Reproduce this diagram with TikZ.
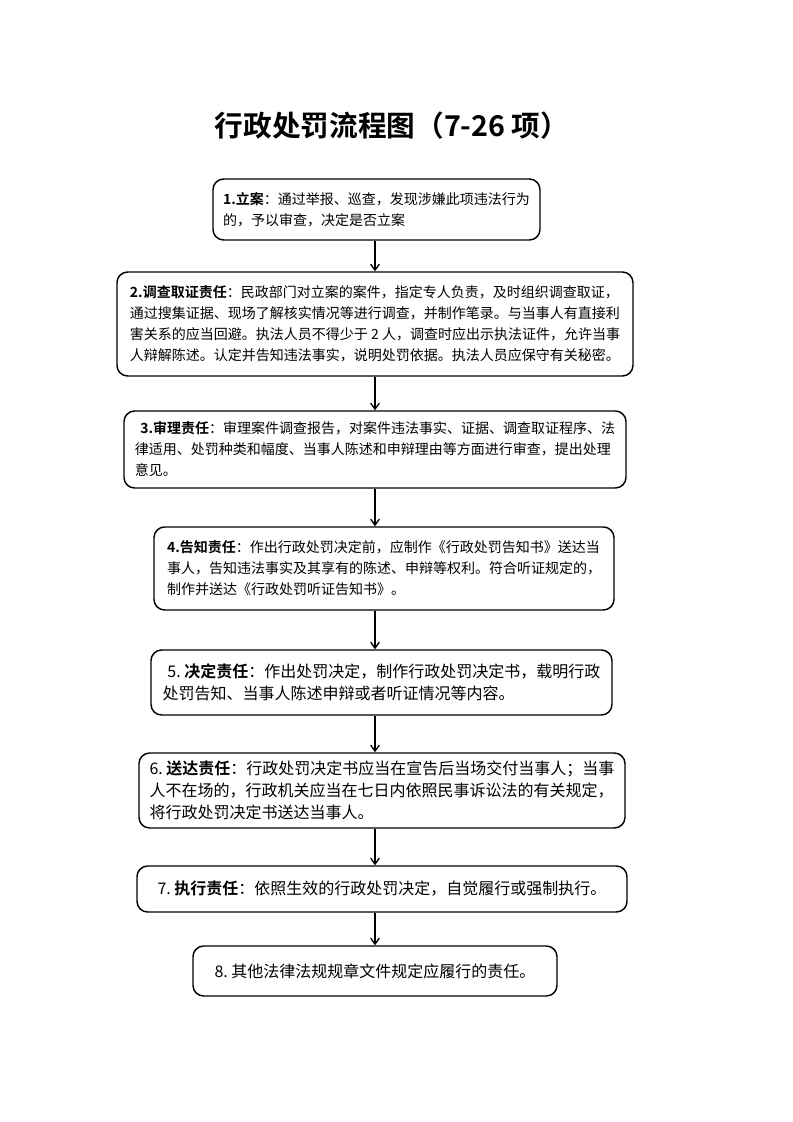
\documentclass[tikz,border=0pt]{standalone}
\usepackage{fontspec}
\setmainfont{Noto Sans CJK SC}[BoldFont={Noto Sans CJK SC Bold}]
\usetikzlibrary{arrows.meta}

\newcommand{\smallbody}{\fontsize{10.5}{15.75}\selectfont}
\newcommand{\largebody}{\fontsize{12}{16.5}\selectfont}

\tikzset{
  stepbox/.style={draw, line width=1.1pt, rounded corners=8pt, inner sep=0pt, align=left},
  flow/.style={line width=1pt, -{Straight Barb[length=4.5pt,width=6.5pt]}},
}

\begin{document}
\begin{tikzpicture}[x=0.75pt, y=-0.75pt]
  \useasboundingbox (0,0) rectangle (793,1122);

  %% Title
  \node[font=\fontsize{21.5}{26}\selectfont\bfseries] (title) at (392,126)
    {行政处罚流程图（7-26 项）};

  %% Eight steps, one rounded box each
  \node[stepbox, font=\smallbody, minimum width=245.25pt, minimum height=45.75pt] (s1) at (376.5,209.5)
    {\textbf{1.立案}：通过举报、巡查，发现涉嫌此项违法行为\\
     的，予以审查，决定是否立案};
  \node[stepbox, font=\smallbody, minimum width=387pt, minimum height=78pt] (s2) at (375,324)
    {\textbf{2.调查取证责任}：民政部门对立案的案件，指定专人负责，及时组织调查取证，\\
     通过搜集证据、现场了解核实情况等进行调查，并制作笔录。与当事人有直接利\\
     害关系的应当回避。执法人员不得少于~2~人，调查时应出示执法证件，允许当事\\
     人辩解陈述。认定并告知违法事实，说明处罚依据。执法人员应保守有关秘密。};
  \node[stepbox, font=\smallbody, minimum width=376.5pt, minimum height=57.75pt] (s3) at (375,449.5)
    {\hspace*{0.4em}\textbf{3.审理责任}：审理案件调查报告，对案件违法事实、证据、调查取证程序、法\\
     律适用、处罚种类和幅度、当事人陈述和申辩理由等方面进行审查，提出处理\\
     意见。};
  \node[stepbox, font=\smallbody, minimum width=345pt, minimum height=62.25pt] (s4) at (384,568.5)
    {\textbf{4.告知责任}：作出行政处罚决定前，应制作《行政处罚告知书》送达当\\
     事人，告知违法事实及其享有的陈述、申辩等权利。符合听证规定的，\\
     制作并送达《行政处罚听证告知书》。};
  \node[stepbox, font=\largebody, minimum width=345.75pt, minimum height=48.75pt] (s5) at (381.5,682.5)
    {\hspace*{0.3em}5.~\textbf{决定责任}：作出处罚决定，制作行政处罚决定书，载明行政\\
     处罚告知、当事人陈述申辩或者听证情况等内容。};
  \node[stepbox, font=\largebody, minimum width=364.5pt, minimum height=56.25pt] (s6) at (382,790.5)
    {6.~\textbf{送达责任}：行政处罚决定书应当在宣告后当场交付当事人；当事\\
     人不在场的，行政机关应当在七日内依照民事诉讼法的有关规定，\\
     将行政处罚决定书送达当事人。};
  \node[stepbox, font=\largebody, minimum width=367.5pt, minimum height=34.5pt] (s7) at (382,889)
    {7.~\textbf{执行责任}：依照生效的行政处罚决定，自觉履行或强制执行。};
  \node[stepbox, font=\largebody, minimum width=273pt, minimum height=37.5pt] (s8) at (375,971)
    {8.~其他法律法规规章文件规定应履行的责任。};

  %% Connectors run down one vertical axis
  \coordinate (axis) at (375,0);
  \foreach \a/\b in {s1/s2, s2/s3, s3/s4, s4/s5, s5/s6, s6/s7, s7/s8}
    \draw[flow] (\a.south -| axis) -- (\b.north -| axis);
\end{tikzpicture}
\end{document}
